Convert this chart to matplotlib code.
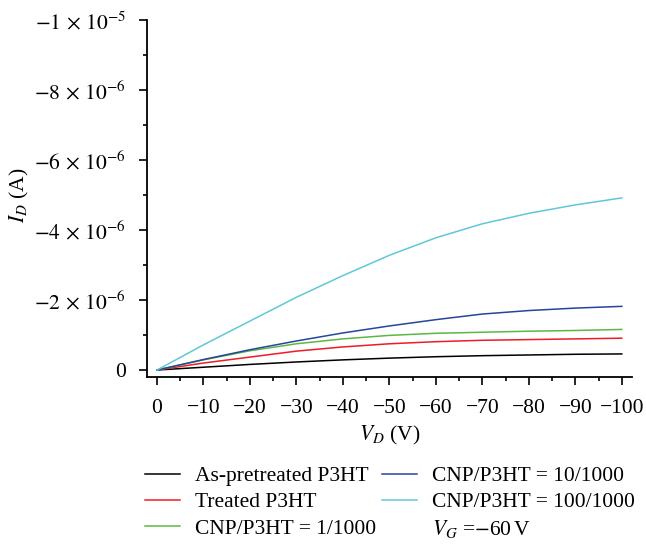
import numpy as np
import matplotlib.pyplot as plt
from matplotlib.lines import Line2D
from matplotlib.ticker import MultipleLocator, FuncFormatter

plt.rcParams['font.family'] = 'Liberation Serif'
plt.rcParams['mathtext.fontset'] = 'stix'

vd = [0, -10, -20, -30, -40, -50, -60, -70, -80, -90, -100]
as_pretreated = [0, -0.08, -0.16, -0.23, -0.29, -0.34, -0.38, -0.41, -0.43, -0.45, -0.46]
treated = [0, -0.20, -0.37, -0.54, -0.66, -0.75, -0.81, -0.85, -0.87, -0.89, -0.91]
cnp_1 = [0, -0.29, -0.55, -0.75, -0.89, -0.99, -1.05, -1.08, -1.11, -1.13, -1.16]
cnp_10 = [0, -0.30, -0.58, -0.83, -1.06, -1.26, -1.44, -1.60, -1.70, -1.77, -1.82]
cnp_100 = [0, -0.72, -1.40, -2.08, -2.70, -3.28, -3.78, -4.18, -4.48, -4.72, -4.92]
scale = 1e-6

series = [
    (as_pretreated, '#000000', 'As-pretreated P3HT'),
    (treated, '#ee1c24', 'Treated P3HT'),
    (cnp_1, '#5cb843', 'CNP/P3HT = 1/1000'),
    (cnp_10, '#24469b', 'CNP/P3HT = 10/1000'),
    (cnp_100, '#5fc8d8', 'CNP/P3HT = 100/1000'),
]

fig = plt.figure(figsize=(6.46, 5.46), dpi=100)
ax = fig.add_axes([0.2276, 0.3095, 0.7504, 0.6535])

handles = []
for vals, col, lab in series:
    line, = ax.plot(vd, np.array(vals) * scale, color=col, lw=1.1, label=lab)
    handles.append(line)
handles.append(Line2D([], [], color='none', label=r'$V_G$ =$-$60$\,$V'))

ax.set_xlim(2.15, -102.15)
ax.set_ylim(0.2e-6, -1.0e-5)

ax.xaxis.set_major_locator(MultipleLocator(10))
ax.xaxis.set_minor_locator(MultipleLocator(5))
ax.yaxis.set_major_locator(MultipleLocator(2e-6))
ax.yaxis.set_minor_locator(MultipleLocator(1e-6))


def xfmt(v, pos):
    v = int(round(v))
    return '0' if v == 0 else '\u2212%d' % abs(v)


def yfmt(v, pos):
    if abs(v) < 1e-12:
        return '0'
    exp = int(np.floor(np.log10(abs(v)) + 1e-9))
    mant = int(round(abs(v) / 10 ** exp))
    return r'$-%d\,\times\,10^{%d}$' % (mant, exp)


ax.xaxis.set_major_formatter(FuncFormatter(xfmt))
ax.yaxis.set_major_formatter(FuncFormatter(yfmt))

ax.spines['top'].set_visible(False)
ax.spines['right'].set_visible(False)
for s in ('left', 'bottom'):
    ax.spines[s].set_linewidth(1.3)
ax.tick_params(which='major', length=6, width=1.2, labelsize=15.5, direction='out')
ax.tick_params(which='minor', length=3, width=1.2, direction='out')
ax.tick_params(axis='x', which='major', pad=10)
ax.tick_params(axis='y', which='major', pad=9)

ax.set_xlabel(r'$V_D$ (V)', fontsize=15.5, labelpad=4)
ax.set_ylabel(r'$I_D$ (A)', fontsize=15.5)
ax.yaxis.set_label_coords(-0.24, 0.51)

fig.legend(handles=handles, loc='upper left', bbox_to_anchor=(0.224, 0.146),
           ncol=2, frameon=False, fontsize=15.5, handlelength=1.65,
           handletextpad=0.7, columnspacing=0.25, labelspacing=0.28,
           borderpad=0, borderaxespad=0)

fig.savefig('out.png', dpi=100)
